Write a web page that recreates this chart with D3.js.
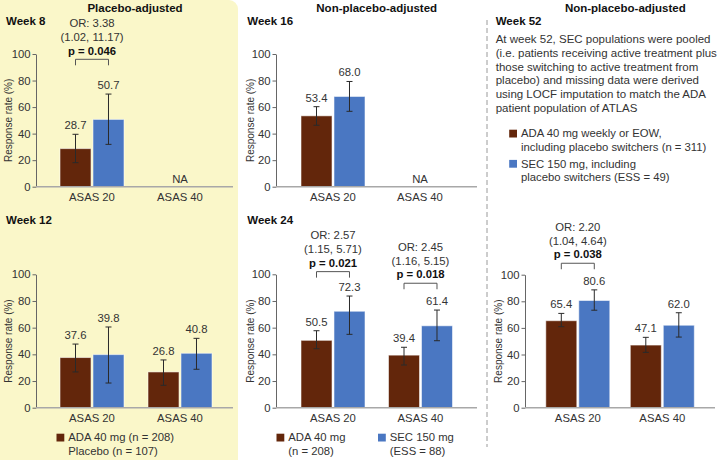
<!DOCTYPE html>
<html><head><meta charset="utf-8">
<script src="https://cdn.jsdelivr.net/npm/d3@7"></script>
<style>
body{margin:0;background:#fff;}
svg{display:block;font-family:"Liberation Sans",Arial,sans-serif;}
</style></head>
<body>
<svg id="chart" width="719" height="460"></svg>
<script>
// ---------- data ----------
const categories = ["ASAS 20", "ASAS 40"];
const panelWeeks = ["Week 8", "Week 12", "Week 16", "Week 24", "Week 52"];
const adaValues = [[28.7, null], [37.6, 26.8], [53.4, null], [50.5, 39.4], [65.4, 47.1]];
const secValues = [[50.7, null], [39.8, 40.8], [68.0, null], [72.3, 61.4], [80.6, 62.0]];
const adaLow  = [[18.1, null], [26.8, 16.8], [46.3, null], [44.2, 32.0], [60.9, 41.6]];
const adaHigh = [[39.5, null], [47.7, 35.8], [60.3, null], [57.7, 45.3], [70.9, 52.9]];
const secLow  = [[31.9, null], [18.5, 28.8], [56.8, null], [55.0, 50.2], [73.3, 53.1]];
const secHigh = [[69.8, null], [60.5, 52.0], [79.3, null], [83.7, 73.2], [88.6, 71.4]];
const yTicks = [0, 20, 40, 60, 80, 100];
// odds-ratio annotations: panel index, category, text lines, bracket level (y units)
const orPanels = [0, 3, 3, 4];
const orCategories = ["ASAS 20", "ASAS 20", "ASAS 40", "ASAS 20"];
const orTexts = [["OR: 3.38", "(1.02, 11.17)", "p = 0.046"],
                 ["OR: 2.57", "(1.15, 5.71)", "p = 0.021"],
                 ["OR: 2.45", "(1.16, 5.15)", "p = 0.018"],
                 ["OR: 2.20", "(1.04, 4.64)", "p = 0.038"]];
const orLevels = [96, 102, 93.3, 108.6];
const sectionTitles = ["Placebo-adjusted", "Non-placebo-adjusted", "Non-placebo-adjusted"];
const noteLines = ["At week 52, SEC populations were pooled",
  "(i.e. patients receiving active treatment plus",
  "those switching to active treatment from",
  "placebo) and missing data were derived",
  "using LOCF imputation to match the ADA",
  "patient population of ATLAS"];

// ---------- style / layout ----------
const BROWN = "#63260b", BLUE = "#4a77c2", YELLOW = "#faf7c9";
const FS = 11.3;
const svg = d3.select("#chart");

svg.append("rect").attr("x", -8).attr("y", 0).attr("width", 246).attr("height", 468)
  .attr("rx", 9).attr("fill", YELLOW);
svg.append("line").attr("x1", 487).attr("x2", 487).attr("y1", 20).attr("y2", 447)
  .attr("stroke", "#9a9a9a").attr("stroke-width", 1).attr("stroke-dasharray", "5,3");

const layouts = [
  {ax: 36,  end: 233, c0: 92,    c1: 180,   bottom: 186.7, top: 54,    labX: 12,  weekX: 6,     weekY: 25},
  {ax: 36,  end: 233, c0: 92,    c1: 180,   bottom: 407.7, top: 274.3, labX: 12,  weekX: 6,     weekY: 224},
  {ax: 276, end: 477, c0: 333,   c1: 420,   bottom: 186.7, top: 54,    labX: 254, weekX: 247.3, weekY: 25},
  {ax: 276, end: 477, c0: 333,   c1: 420.5, bottom: 407.7, top: 274.3, labX: 254, weekX: 247.3, weekY: 224},
  {ax: 525, end: 715, c0: 577.8, c1: 662.3, bottom: 407.7, top: 274.7, labX: 502, weekX: 495.7, weekY: 25}
];

const titleX = [135, 376.7, 625.3];
sectionTitles.forEach((t, i) => {
  svg.append("text").attr("x", titleX[i]).attr("y", 11.5).attr("text-anchor", "middle")
    .attr("font-size", FS + 0.2).attr("font-weight", "bold").attr("fill", "#111").text(t);
});

const panels = layouts.map((L, p) => {
  const g = svg.append("g");
  const y = d3.scaleLinear().domain([0, 100]).range([L.bottom, L.top]);
  const x = d3.scalePoint().domain(categories).range([L.c0, L.c1]);
  const sub = d3.scaleBand().domain(["ADA", "SEC"]).range([-32, 32]).paddingInner(0.06);

  g.append("text").attr("x", L.weekX).attr("y", L.weekY).attr("font-size", FS + 0.2)
    .attr("font-weight", "bold").attr("fill", "#111").text(panelWeeks[p]);

  // y axis
  const ya = g.append("g").attr("transform", `translate(${L.ax},0)`)
    .call(d3.axisLeft(y).tickValues(yTicks).tickSize(3.5).tickSizeOuter(0).tickPadding(2));
  ya.select(".domain").attr("stroke", "#666");
  ya.selectAll(".tick line").attr("stroke", "#666");
  ya.selectAll(".tick text").attr("font-size", FS).attr("fill", "#333")
    .attr("font-family", '"Liberation Sans",Arial,sans-serif');

  g.append("text").attr("transform", `translate(${L.labX},${(L.top + L.bottom) / 2}) rotate(-90)`)
    .attr("text-anchor", "middle").attr("font-size", 10).attr("fill", "#333")
    .text("Response rate (%)");

  // bars
  categories.forEach((c, ci) => {
    const cx = x(c);
    const series = [
      {k: "ADA", v: adaValues[p][ci], lo: adaLow[p][ci], hi: adaHigh[p][ci], col: BROWN},
      {k: "SEC", v: secValues[p][ci], lo: secLow[p][ci], hi: secHigh[p][ci], col: BLUE}
    ];
    if (series[0].v === null) {
      g.append("text").attr("x", cx).attr("y", L.bottom - 4).attr("text-anchor", "middle")
        .attr("font-size", FS).attr("fill", "#333").text("NA");
      return;
    }
    series.forEach(s => {
      const bx = cx + sub(s.k), bw = sub.bandwidth(), mx = bx + bw / 2;
      g.append("rect").attr("x", bx).attr("y", y(s.v)).attr("width", bw)
        .attr("height", y(0) - y(s.v)).attr("fill", s.col)
        .attr("stroke", "rgba(255,255,255,0.55)").attr("stroke-width", 1);
      const eg = g.append("g").attr("stroke", "#2a2a2a").attr("stroke-width", 1);
      eg.append("line").attr("x1", mx).attr("x2", mx).attr("y1", y(s.lo)).attr("y2", y(s.hi));
      eg.append("line").attr("x1", mx - 3).attr("x2", mx + 3).attr("y1", y(s.lo)).attr("y2", y(s.lo));
      eg.append("line").attr("x1", mx - 3).attr("x2", mx + 3).attr("y1", y(s.hi)).attr("y2", y(s.hi));
      g.append("text").attr("x", mx).attr("y", y(s.hi) - 5).attr("text-anchor", "middle")
        .attr("font-size", FS).attr("fill", "#333").text(s.v.toFixed(1));
    });
  });

  // x axis
  g.append("line").attr("x1", L.ax).attr("x2", L.end).attr("y1", L.bottom).attr("y2", L.bottom)
    .attr("stroke", "#a8a8a8").attr("stroke-width", 1.5);
  categories.forEach(c => {
    g.append("text").attr("x", x(c)).attr("y", L.bottom + 14.3).attr("text-anchor", "middle")
      .attr("font-size", FS).attr("fill", "#333").text(c);
  });
  return {g, x, y, sub};
});

// OR annotations
orPanels.forEach((p, i) => {
  const P = panels[p];
  const cx = P.x(orCategories[i]);
  const xa = cx + P.sub("ADA") + P.sub.bandwidth() / 2;
  const xs = cx + P.sub("SEC") + P.sub.bandwidth() / 2;
  const by = P.y(orLevels[i]);
  P.g.append("path").attr("d", `M${xa},${by + 6}V${by}H${xs}V${by + 6}`)
    .attr("fill", "none").attr("stroke", "#555").attr("stroke-width", 1);
  const lines = orTexts[i];
  lines.forEach((t, li) => {
    P.g.append("text").attr("x", cx).attr("y", by - 4.8 - (lines.length - 1 - li) * 13.8)
      .attr("text-anchor", "middle").attr("font-size", FS)
      .attr("font-weight", li === lines.length - 1 ? "bold" : "normal")
      .attr("fill", li === lines.length - 1 ? "#111" : "#333").text(t);
  });
});

// note text (week 52)
noteLines.forEach((t, i) => {
  svg.append("text").attr("x", 495.7).attr("y", 43.3 + i * 13.7).attr("font-size", 11.5)
    .attr("fill", "#333").text(t);
});

// legends
function legendItem(x, y, col, lines) {
  if (col) svg.append("rect").attr("x", x).attr("y", y - 7.6).attr("width", 7.8).attr("height", 7.8).attr("fill", col);
  lines.forEach((t, i) => {
    svg.append("text").attr("x", x + 11.8).attr("y", y + i * 13.7).attr("font-size", FS)
      .attr("fill", "#333").text(t);
  });
}
legendItem(56.5, 441.3, BROWN, ["ADA 40 mg (n = 208)", "Placebo (n = 107)"]);
legendItem(276.5, 441.3, BROWN, ["ADA 40 mg", "(n = 208)"]);
legendItem(378, 441.3, BLUE, ["SEC 150 mg", "(ESS = 88)"]);
legendItem(509.2, 137.3, BROWN, ["ADA 40 mg weekly or EOW,", "including placebo switchers (n = 311)"]);
legendItem(509.2, 167.5, BLUE, ["SEC 150 mg, including", "placebo switchers (ESS = 49)"]);
</script>
</body></html>
